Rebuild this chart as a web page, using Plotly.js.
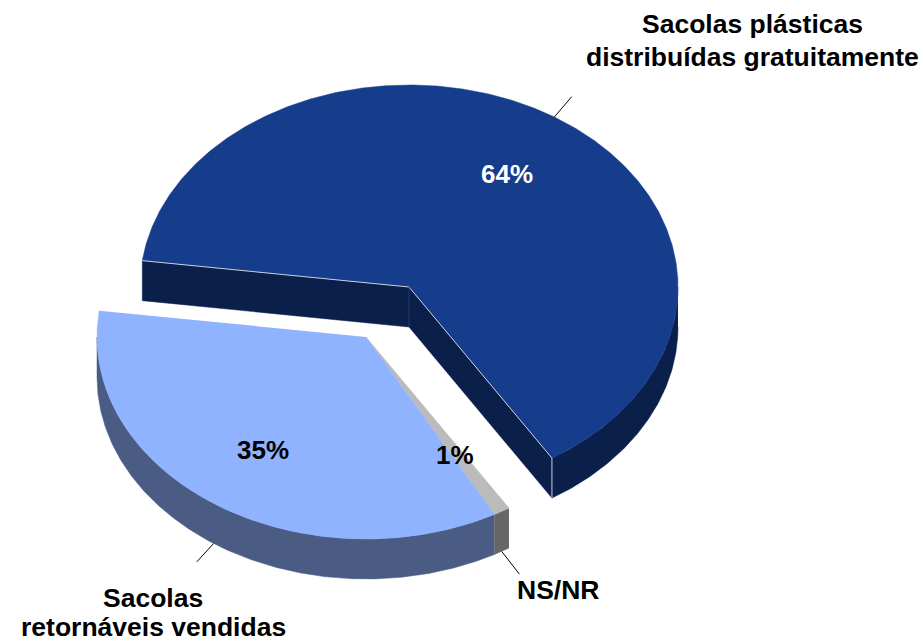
<!DOCTYPE html>
<html>
<head>
<meta charset="utf-8">
<script src="https://cdn.plot.ly/plotly-3.0.1.min.js"></script>
<style>html,body{margin:0;padding:0;background:#fff}#chart{width:924px;height:644px}</style>
</head>
<body>
<div id="chart"></div>
<script>
const categories = ["Sacolas plásticas<br>distribuídas gratuitamente", "Sacolas<br>retornáveis vendidas", "NS/NR"];
const shares = [64, 35, 1];
const shareLabels = ["64%", "35%", "1%"];
const topColors = ["#163C8C", "#8FB3FF", "#BBBBBB"];
const sideColors = ["#0A1F4A", "#4A5C83", "#666666"];
const labelColors = ["#FFFFFF", "#000000", "#000000"];

// Projection of the tilted pie
const RX = 269, RY = 202, DEPTH = 40, START = 277.5;
const mainCentre = [409, 287];
const explodedCentre = [366, 337];
const F = "'Liberation Sans', Arial, sans-serif";

const rad = d => d * Math.PI / 180;
const pt = (c, a, dz = 0, k = 1) => [c[0] + k * RX * Math.sin(rad(a)), c[1] - k * RY * Math.cos(rad(a)) + dz];
function arc(c, a0, a1, dz = 0) {
  const n = Math.max(2, Math.ceil(Math.abs(a1 - a0) * 2)), out = [];
  for (let i = 0; i <= n; i++) out.push(pt(c, a0 + (a1 - a0) * i / n, dz));
  return out;
}
function poly(points, color, name) {
  return {type: "scatter", mode: "lines", x: points.map(p => p[0]), y: points.map(p => p[1]),
    fill: "toself", fillcolor: color, line: {color: color, width: 0.5}, hoverinfo: "skip", showlegend: false, name};
}
function seg(a, b, color, width) {
  return {type: "scatter", mode: "lines", x: [a[0], b[0]], y: [a[1], b[1]],
    line: {color, width}, hoverinfo: "skip", showlegend: false};
}
const wall = (c, a0, a1) => arc(c, a0, a1).concat(arc(c, a1, a0, DEPTH));
const down = (p) => [p[0], p[1] + DEPTH];

// Slice angles, clockwise from the top
const span = shares.map(v => v * 3.6);
const aMainEnd = START + span[0];            // main slice runs clockwise from START
const aMainEndN = aMainEnd - 360;
const aBlueStart = START;                    // 35% runs counter-clockwise from START
const aBlueEnd = START - span[1];
const aGreyEnd = aBlueEnd - span[2];
const midMain = START + span[0] / 2;
const midBlue = START - span[1] / 2;
const midGrey = aBlueEnd - span[2] / 2;

const mainA = pt(mainCentre, START), mainB = pt(mainCentre, aMainEndN);
const traces = [];

// main slice: walls and cut faces
traces.push(poly(wall(mainCentre, 90, aMainEndN), sideColors[0]));
traces.push(poly([mainCentre, mainA, down(mainA), down(mainCentre)], sideColors[0]));
traces.push(poly([mainCentre, mainB, down(mainB), down(mainCentre)], sideColors[0]));
traces.push(poly([mainCentre].concat(arc(mainCentre, START, aMainEnd)), topColors[0]));
traces.push(seg(mainCentre, mainA, "#C9CEDA", 1));
traces.push(seg(mainCentre, mainB, "#C9CEDA", 1));
traces.push(seg(mainB, down(mainB), "#C9CEDA", 1));
traces.push(seg(mainCentre, down(mainCentre), "#27396A", 1));

// exploded slices
traces.push(poly(wall(explodedCentre, aBlueEnd, 270), sideColors[1]));
traces.push(poly(wall(explodedCentre, aGreyEnd, aBlueEnd), sideColors[2]));
traces.push(poly([explodedCentre].concat(arc(explodedCentre, aGreyEnd, aBlueEnd)), topColors[2]));
traces.push(poly([explodedCentre].concat(arc(explodedCentre, aBlueEnd, aBlueStart)), topColors[1]));

// leader lines, at each slice's middle angle
traces.push(seg(pt(mainCentre, midMain), pt(mainCentre, midMain, 0, 1.12), "#000", 1));
traces.push(seg(pt(explodedCentre, midBlue, DEPTH), pt(explodedCentre, midBlue, DEPTH, 1.11), "#000", 1));
traces.push(seg(pt(explodedCentre, midGrey, DEPTH), pt(explodedCentre, midGrey, DEPTH, 1.13), "#000", 1));

// one [x, y] per text line of each category
const catLinePos = [[[752, 24], [752, 57]], [[153, 598], [153, 627]], [[558, 590]]];
const pctPos = [[507, 174], [263, 450], [455, 455]];
const annotations = [];
categories.forEach((t, i) => t.split("<br>").forEach((line, j) => annotations.push({
  x: catLinePos[i][j][0], y: catLinePos[i][j][1], xref: "x", yref: "y", text: "<b>" + line + "</b>",
  showarrow: false, font: {family: F, size: 26.5, color: "#000"}, align: "center", xanchor: "center", yanchor: "middle"})));
shareLabels.forEach((t, i) => annotations.push({x: pctPos[i][0], y: pctPos[i][1], xref: "x", yref: "y", text: "<b>" + t + "</b>",
  showarrow: false, font: {family: F, size: 26, color: labelColors[i]}, xanchor: "center", yanchor: "middle"}));

const layout = {
  width: 924, height: 644, margin: {l: 0, r: 0, t: 0, b: 0},
  paper_bgcolor: "#fff", plot_bgcolor: "#fff", showlegend: false,
  xaxis: {range: [0, 924], visible: false, fixedrange: true},
  yaxis: {range: [644, 0], visible: false, fixedrange: true},
  annotations
};
Plotly.newPlot("chart", traces, layout, {displayModeBar: false, staticPlot: true});
</script>
</body>
</html>
